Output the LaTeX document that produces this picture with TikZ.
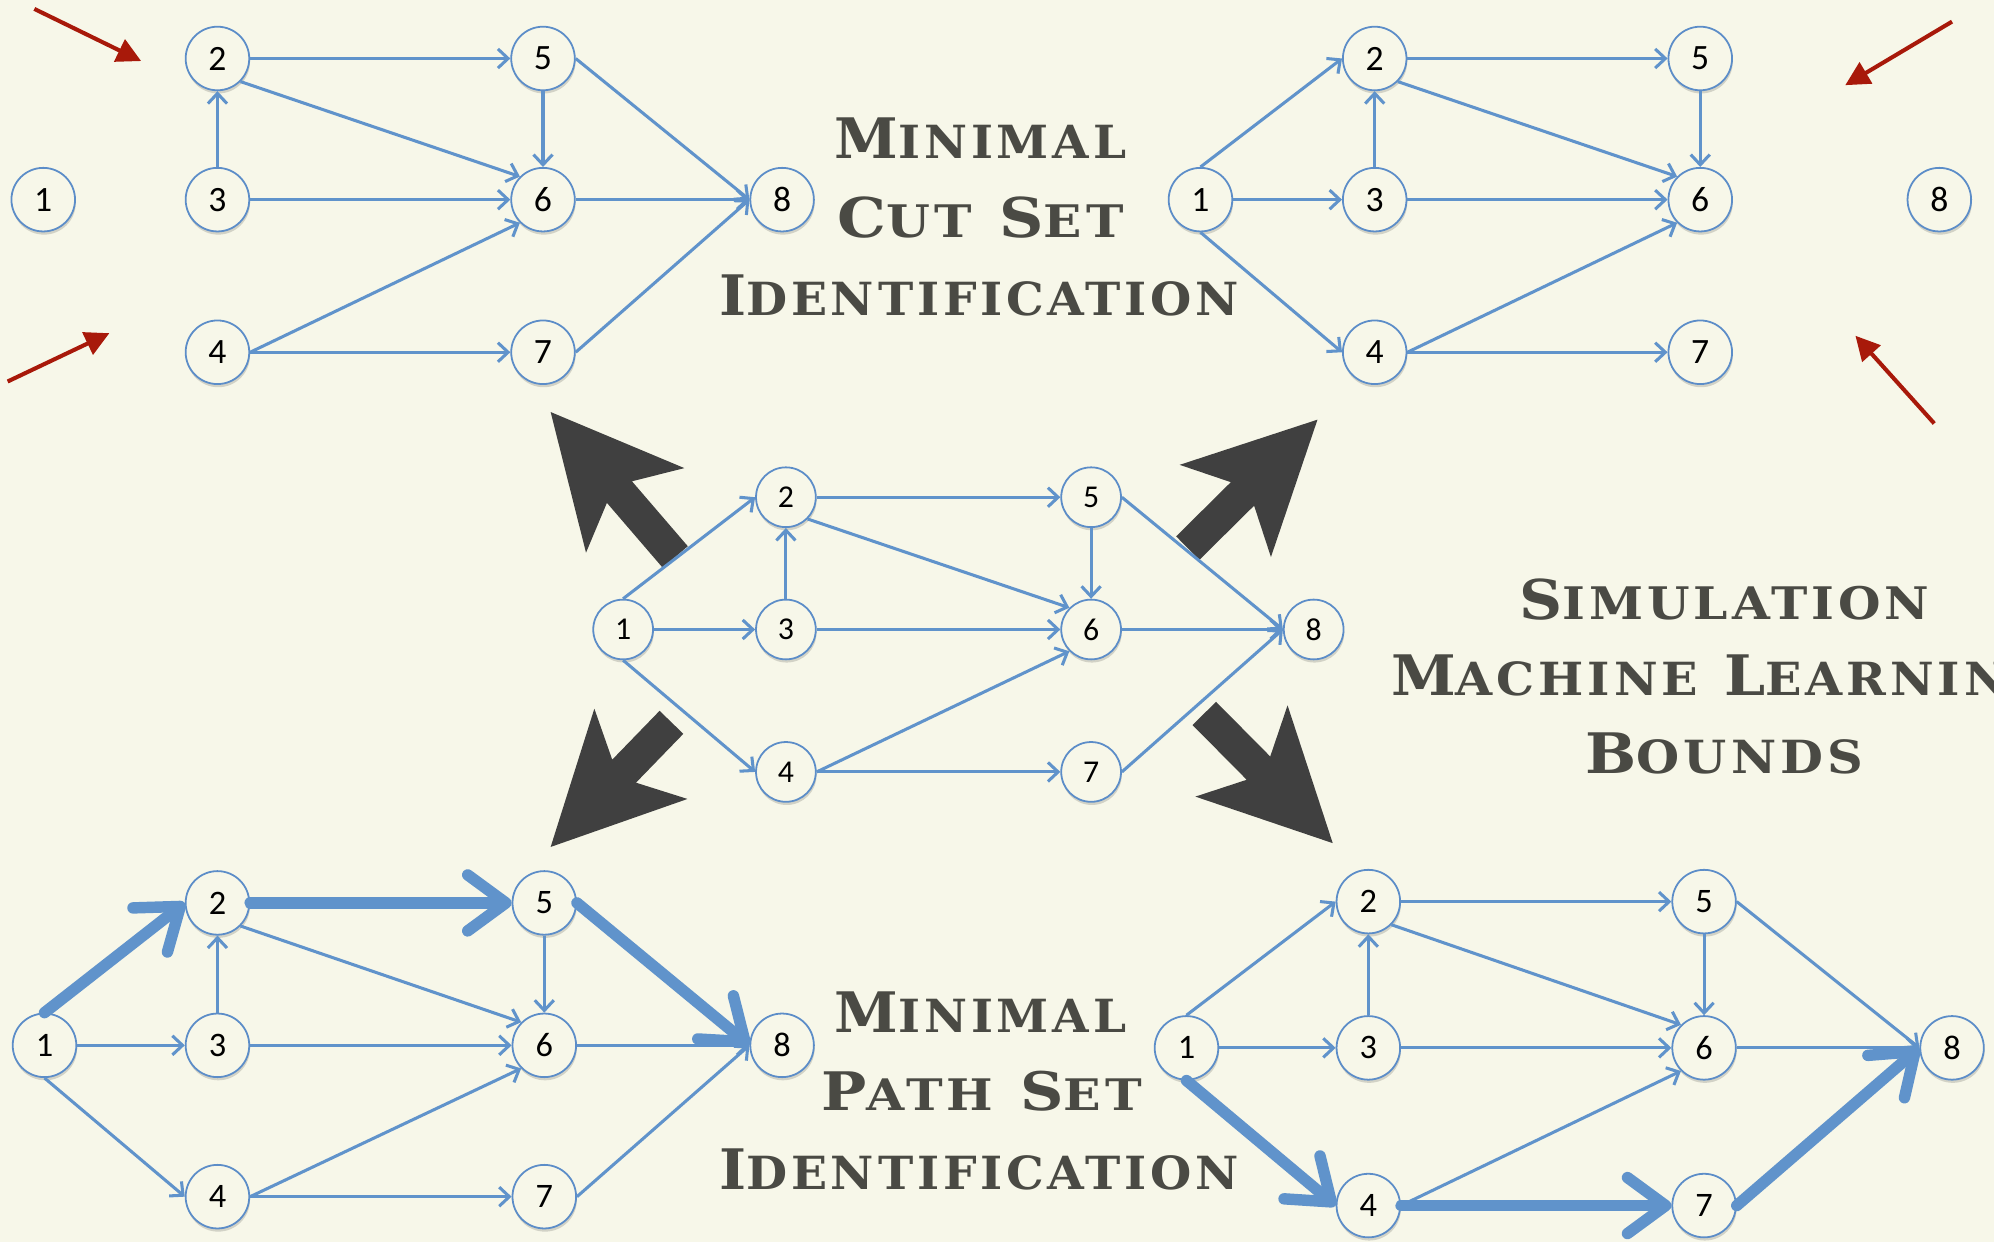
\documentclass[tikz,border=0pt]{standalone}
\usepackage{fontspec}
\usepackage{graphicx}
\usetikzlibrary{arrows.meta,calc,shadows}
\newfontfamily\hfont[LetterSpace=8]{DejaVu Serif}
\newfontfamily\nfont{Carlito}
\definecolor{bg}{RGB}{247,247,233}
\definecolor{eblue}{RGB}{96,147,203}
\definecolor{nblue}{RGB}{92,141,200}
\definecolor{rarr}{RGB}{168,25,10}
\definecolor{garr}{RGB}{64,64,64}
\definecolor{ttxt}{RGB}{74,74,68}
\newcommand\sct[2]{{\fontsize{44}{44}\selectfont #1}{\fontsize{36}{36}\selectfont #2}}
\newcommand\wgap{\kern 0.55em}
\newcommand\bigarrow[2]{%
  \coordinate (#1-j) at ($(#2)!83pt!(#1)$);
  \coordinate (#1-w) at ($(#2)!102pt!(#1)$);
  \fill[bigarr] ($(#1)!13pt!90:(#2)$) -- ($(#1-j)!13pt!90:(#2)$) -- ($(#1-w)!51pt!90:(#2)$) -- (#2)
     -- ($(#1-w)!51pt!-90:(#2)$) -- ($(#1-j)!13pt!-90:(#2)$) -- ($(#1)!13pt!-90:(#2)$) -- cycle;}
\tikzset{
  nd/.style={circle, draw=nblue, line width=1.4pt, fill=bg, minimum size=50pt, inner sep=0pt,
     text=black, font=\nfont\fontsize{28}{28}\selectfont,
     drop shadow={shadow xshift=0.6pt, shadow yshift=-2.5pt, opacity=0.15, fill=black}},
  ndm/.style={nd, font=\nfont\fontsize{27}{27}\selectfont},
  ndc/.style={nd, minimum size=47pt, font=\nfont\fontsize{25}{25}\selectfont},
  ed/.style={draw=eblue, line width=2.4pt, -{Straight Barb[length=8pt,width=15pt]}},
  thk/.style={draw=eblue, line width=9pt, line cap=round, -{Straight Barb[length=30pt,width=44pt,round]}},
  redarr/.style={draw=rarr, line width=3.2pt, -{Triangle[length=19pt,width=19pt]}},
  bigarr/.style={fill=garr},
  ttl/.style={text=ttxt, inner sep=0pt, anchor=base},
}
\def\corelist{3/2/north/south, 2/6/south east/north west, 3/6/east/west, 5/6/south/north, 4/6/east/south west}
\begin{document}
\begin{tikzpicture}[x=1pt,y=-1pt]
\useasboundingbox (0,0) rectangle (1568,977);
\clip (0,0) rectangle (1568,977);
\fill[bg] (0,0) rectangle (1568,977);

% big dark arrows
\coordinate (gT1) at (531,438); \coordinate (gP1) at (433,324);
\coordinate (gT2) at (934,431); \coordinate (gP2) at (1036,330);
\coordinate (gT3) at (528,568); \coordinate (gP3) at (433,666);
\coordinate (gT4) at (947,561); \coordinate (gP4) at (1048,663);
\bigarrow{gT1}{gP1}
\bigarrow{gT2}{gP2}
\bigarrow{gT3}{gP3}
\bigarrow{gT4}{gP4}

% red arrows
\coordinate (r1s) at (27,7);    \coordinate (r1e) at (111,48);
\coordinate (r2s) at (6,300);   \coordinate (r2e) at (86,262);
\coordinate (r3s) at (1535,17); \coordinate (r3e) at (1451,67);
\coordinate (r4s) at (1521,333);\coordinate (r4e) at (1459,264);
\draw[redarr] (r1s) -- (r1e);
\draw[redarr] (r2s) -- (r2e);
\draw[redarr] (r3s) -- (r3e);
\draw[redarr] (r4s) -- (r4e);

% top-left graph
\node[nd] (a1) at (34,157) {1};
\node[nd] (a2) at (171,46) {2};
\node[nd] (a3) at (171,157) {3};
\node[nd] (a4) at (171,277) {4};
\node[nd] (a5) at (427,46) {5};
\node[nd] (a6) at (427,157) {6};
\node[nd] (a7) at (427,277) {7};
\node[nd] (a8) at (615,157) {8};
\foreach \s/\t/\sa/\ta in \corelist \draw[ed] (a\s.\sa) -- (a\t.\ta);
\foreach \s/\t/\sa/\ta in {2/5/east/west, 4/7/east/west, 5/8/east/west, 6/8/east/west, 7/8/east/west}
  \draw[ed] (a\s.\sa) -- (a\t.\ta);

% top-right graph
\node[nd] (b1) at (944,157) {1};
\node[nd] (b2) at (1081,46) {2};
\node[nd] (b3) at (1081,157) {3};
\node[nd] (b4) at (1081,277) {4};
\node[nd] (b5) at (1337,46) {5};
\node[nd] (b6) at (1337,157) {6};
\node[nd] (b7) at (1337,277) {7};
\node[nd] (b8) at (1525,157) {8};
\foreach \s/\t/\sa/\ta in \corelist \draw[ed] (b\s.\sa) -- (b\t.\ta);
\foreach \s/\t/\sa/\ta in {1/2/north/west, 1/3/east/west, 1/4/south/west, 2/5/east/west, 4/7/east/west}
  \draw[ed] (b\s.\sa) -- (b\t.\ta);

% central graph
\node[ndc] (c1) at (490,495) {1};
\node[ndc] (c2) at (618,391) {2};
\node[ndc] (c3) at (618,495) {3};
\node[ndc] (c4) at (618,607) {4};
\node[ndc] (c5) at (858,391) {5};
\node[ndc] (c6) at (858,495) {6};
\node[ndc] (c7) at (858,607) {7};
\node[ndc] (c8) at (1033,495) {8};
\foreach \s/\t/\sa/\ta in \corelist \draw[ed] (c\s.\sa) -- (c\t.\ta);
\foreach \s/\t/\sa/\ta in {1/2/north/west, 1/3/east/west, 1/4/south/west, 2/5/east/west, 4/7/east/west, 5/8/east/west, 6/8/east/west, 7/8/east/west}
  \draw[ed] (c\s.\sa) -- (c\t.\ta);

% bottom-left graph
\node[ndm] (d1) at (35,822) {1};
\node[ndm] (d2) at (171,710) {2};
\node[ndm] (d3) at (171,822) {3};
\node[ndm] (d4) at (171,941) {4};
\node[ndm] (d5) at (428,710) {5};
\node[ndm] (d6) at (428,822) {6};
\node[ndm] (d7) at (428,941) {7};
\node[ndm] (d8) at (615,822) {8};
\foreach \s/\t/\sa/\ta in \corelist \draw[ed] (d\s.\sa) -- (d\t.\ta);
\foreach \s/\t/\sa/\ta in {1/3/east/west, 1/4/south/west, 4/7/east/west, 6/8/east/west, 7/8/east/west}
  \draw[ed] (d\s.\sa) -- (d\t.\ta);
\foreach \s/\t/\sa/\ta in {1/2/north/west, 2/5/east/west, 5/8/east/west}
  \draw[thk] (d\s.\sa) -- (d\t.\ta);

% bottom-right graph
\node[ndm] (e1) at (933,824) {1};
\node[ndm] (e2) at (1076,709) {2};
\node[ndm] (e3) at (1076,824) {3};
\node[ndm] (e4) at (1076,948) {4};
\node[ndm] (e5) at (1340,709) {5};
\node[ndm] (e6) at (1340,824) {6};
\node[ndm] (e7) at (1340,948) {7};
\node[ndm] (e8) at (1535,824) {8};
\foreach \s/\t/\sa/\ta in \corelist \draw[ed] (e\s.\sa) -- (e\t.\ta);
\foreach \s/\t/\sa/\ta in {1/2/north/west, 1/3/east/west, 2/5/east/west, 5/8/east/west, 6/8/east/west}
  \draw[ed] (e\s.\sa) -- (e\t.\ta);
\foreach \s/\t/\sa/\ta in {1/4/south/west, 4/7/east/west, 7/8/east/west}
  \draw[thk] (e\s.\sa) -- (e\t.\ta);

% titles
\node[ttl] (t1) at (771,125) {\resizebox{229pt}{32pt}{\hfont\bfseries\sct{M}{INIMAL}}};
\node[ttl] (t2) at (771,187) {\resizebox{225pt}{32pt}{\hfont\bfseries\sct{C}{UT\wgap}\sct{S}{ET}}};
\node[ttl] (t3) at (770,248) {\resizebox{409pt}{32pt}{\hfont\bfseries\sct{I}{DENTIFICATION}}};

\node[ttl] (t4) at (771,812) {\resizebox{229pt}{32pt}{\hfont\bfseries\sct{M}{INIMAL}}};
\node[ttl] (t5) at (772,873) {\resizebox{252pt}{31pt}{\hfont\bfseries\sct{P}{ATH\wgap}\sct{S}{ET}}};
\node[ttl] (t6) at (770,935) {\resizebox{409pt}{32pt}{\hfont\bfseries\sct{I}{DENTIFICATION}}};

\node[ttl] (t7) at (1356,487) {\resizebox{322pt}{32pt}{\hfont\bfseries\sct{S}{IMULATION}}};
\node[ttl] (t8) at (1354,547) {\resizebox{520pt}{32pt}{\hfont\bfseries\sct{M}{ACHINE\wgap}\sct{L}{EARNING}}};
\node[ttl] (t9) at (1356,608) {\resizebox{218pt}{32pt}{\hfont\bfseries\sct{B}{OUNDS}}};
\end{tikzpicture}
\end{document}
